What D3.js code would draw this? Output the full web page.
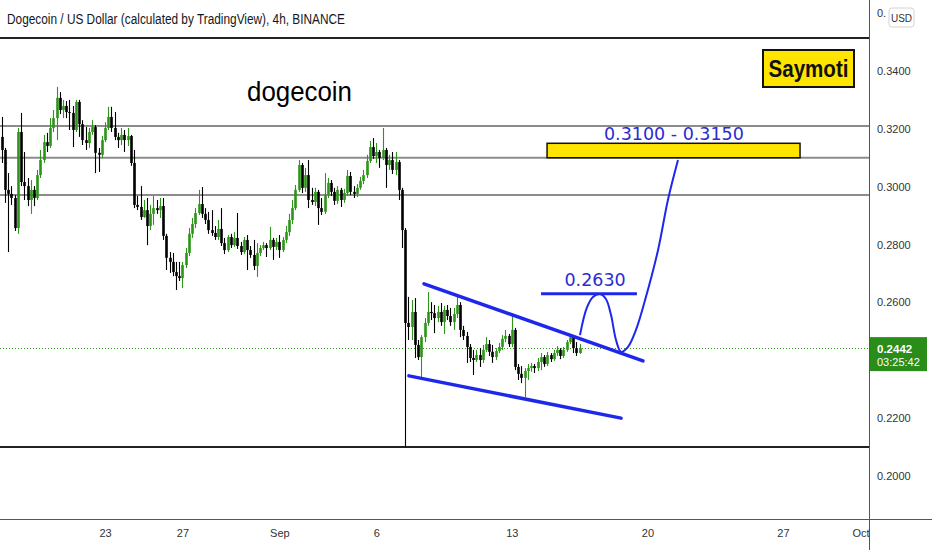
<!DOCTYPE html>
<html><head><meta charset="utf-8">
<script src="https://cdn.jsdelivr.net/npm/d3@7"></script>
<style>html,body{margin:0;padding:0;background:#fff;}svg{display:block;}</style>
</head><body>
<svg id="c" width="932" height="550"></svg>
<script>
// ---------------- data ----------------
const title = "Dogecoin / US Dollar (calculated by TradingView), 4h, BINANCE";
const startTime = "2021-08-17T16:00:00Z";   // first 4h bar
const barHours = 4;
const firstOpen = 0.3172;
const closes = [0.3127,0.2989,0.2975,0.2961,0.2857,0.3189,0.3016,0.3002,0.2954,0.2989,
0.2961,0.3040,0.3092,0.3154,0.3141,0.3203,0.3237,0.3307,0.3265,0.3279,
0.3258,0.3255,0.3196,0.3293,0.3216,0.3161,0.3151,0.3189,0.3206,0.3117,
0.3110,0.3161,0.3203,0.3241,0.3203,0.3172,0.3161,0.3179,0.3161,0.3175,
0.3082,0.2937,0.2930,0.2895,0.2919,0.2864,0.2906,0.2926,0.2919,0.2933,
0.2830,0.2754,0.2740,0.2705,0.2691,0.2684,0.2729,0.2771,0.2837,0.2871,
0.2909,0.2940,0.2906,0.2885,0.2850,0.2840,0.2826,0.2854,0.2805,0.2781,
0.2826,0.2798,0.2823,0.2795,0.2774,0.2816,0.2781,0.2764,0.2726,0.2771,
0.2788,0.2798,0.2788,0.2816,0.2792,0.2809,0.2781,0.2816,0.2843,0.2885,
0.2926,0.2989,0.3075,0.2996,0.3040,0.2954,0.2947,0.2982,0.2926,0.2913,
0.2971,0.3013,0.2982,0.2951,0.2989,0.2954,0.2978,0.3037,0.2982,0.2975,
0.2996,0.3020,0.3040,0.3089,0.3137,0.3106,0.3120,0.3099,0.3127,0.3075,
0.3092,0.3058,0.3085,0.2989,0.2850,0.2529,0.2515,0.2567,0.2453,0.2411,
0.2480,0.2529,0.2567,0.2563,0.2546,0.2567,0.2532,0.2574,0.2553,0.2532,
0.2560,0.2591,0.2505,0.2484,0.2446,0.2408,0.2401,0.2418,0.2401,0.2436,
0.2456,0.2429,0.2411,0.2432,0.2446,0.2474,0.2484,0.2456,0.2505,0.2377,
0.2353,0.2339,0.2363,0.2373,0.2380,0.2373,0.2394,0.2411,0.2387,0.2418,
0.2404,0.2425,0.2436,0.2415,0.2436,0.2463,0.2480,0.2442,0.2425,0.2442];
const highs = [0.3241,0.3134,0.3047,0.3002,0.2971,0.3203,0.3255,0.3120,0.3030,0.3023,
0.3002,0.3058,0.3127,0.3179,0.3186,0.3237,0.3265,0.3345,0.3327,0.3300,
0.3296,0.3300,0.3279,0.3300,0.3300,0.3230,0.3206,0.3203,0.3230,0.3213,
0.3134,0.3175,0.3223,0.3276,0.3276,0.3258,0.3186,0.3203,0.3196,0.3203,
0.3179,0.3127,0.2968,0.3002,0.2954,0.2961,0.2937,0.2968,0.2954,0.2961,
0.2961,0.2837,0.2774,0.2771,0.2740,0.2740,0.2740,0.2788,0.2857,0.2892,
0.2926,0.2989,0.2999,0.2926,0.2913,0.2919,0.2864,0.2885,0.2926,0.2823,
0.2833,0.2837,0.2843,0.2909,0.2809,0.2826,0.2833,0.2795,0.2816,0.2805,
0.2798,0.2809,0.2805,0.2861,0.2823,0.2823,0.2833,0.2826,0.2864,0.2906,
0.2954,0.3006,0.3092,0.3082,0.3065,0.3092,0.2996,0.2996,0.2989,0.2961,
0.3047,0.3030,0.3023,0.2996,0.3002,0.2996,0.2992,0.3058,0.3051,0.3002,
0.3009,0.3034,0.3058,0.3110,0.3158,0.3168,0.3151,0.3127,0.3203,0.3134,
0.3110,0.3120,0.3120,0.3092,0.2996,0.2857,0.2619,0.2608,0.2615,0.2470,
0.2487,0.2546,0.2636,0.2601,0.2591,0.2588,0.2598,0.2588,0.2591,0.2581,
0.2581,0.2626,0.2601,0.2519,0.2498,0.2456,0.2436,0.2436,0.2442,0.2453,
0.2480,0.2470,0.2453,0.2442,0.2460,0.2487,0.2505,0.2491,0.2563,0.2512,
0.2387,0.2380,0.2373,0.2387,0.2391,0.2387,0.2408,0.2425,0.2418,0.2429,
0.2425,0.2436,0.2449,0.2442,0.2446,0.2470,0.2491,0.2484,0.2463,0.2456];
const lows = [0.3082,0.2944,0.2774,0.2937,0.2847,0.2837,0.3002,0.2954,0.2933,0.2906,
0.2933,0.2954,0.3030,0.3082,0.3120,0.3134,0.3189,0.3161,0.3251,0.3237,
0.3237,0.3196,0.3137,0.3189,0.3172,0.3144,0.3127,0.3134,0.3179,0.3047,
0.3051,0.3099,0.3154,0.3196,0.3189,0.3161,0.3134,0.3144,0.3120,0.3141,
0.3072,0.2926,0.2919,0.2885,0.2892,0.2798,0.2850,0.2868,0.2906,0.2892,
0.2816,0.2712,0.2702,0.2691,0.2643,0.2674,0.2650,0.2719,0.2760,0.2823,
0.2857,0.2902,0.2892,0.2871,0.2837,0.2830,0.2816,0.2816,0.2795,0.2767,
0.2774,0.2788,0.2792,0.2785,0.2764,0.2767,0.2712,0.2754,0.2712,0.2688,
0.2760,0.2781,0.2757,0.2781,0.2747,0.2781,0.2754,0.2774,0.2805,0.2830,
0.2871,0.2919,0.2982,0.2978,0.2982,0.2926,0.2937,0.2933,0.2868,0.2902,
0.2906,0.2961,0.2968,0.2937,0.2940,0.2930,0.2944,0.2968,0.2971,0.2961,
0.2964,0.2989,0.3009,0.3030,0.3082,0.3096,0.3082,0.3065,0.3092,0.2996,
0.3058,0.3044,0.3040,0.2954,0.2788,0.2100,0.2470,0.2470,0.2408,0.2401,
0.2339,0.2463,0.2519,0.2539,0.2494,0.2532,0.2519,0.2491,0.2539,0.2519,
0.2505,0.2546,0.2480,0.2470,0.2391,0.2394,0.2349,0.2394,0.2377,0.2391,
0.2429,0.2415,0.2391,0.2401,0.2425,0.2436,0.2463,0.2446,0.2446,0.2366,
0.2332,0.2321,0.2273,0.2332,0.2360,0.2356,0.2363,0.2366,0.2377,0.2380,
0.2394,0.2398,0.2415,0.2404,0.2408,0.2429,0.2456,0.2425,0.2415,0.2422];

const yTicks = [0.20, 0.22, 0.26, 0.28, 0.30, 0.32, 0.34, 0.36];
const topTickShown = "0.";   // the top tick is mostly covered by the currency badge
const xTickDates = ["2021-08-23","2021-08-27","2021-09-01","2021-09-06","2021-09-13","2021-09-20","2021-09-27","2021-10-01"];
const xTickLabels = ["23","27","Sep","6","13","20","27","Oct"];
const grayLevels = [0.3210, 0.3100, 0.2971];
const darkLevels = [0.3514, 0.2100];
const lastPrice = 0.2442;
const countdown = "03:25:42";
const currency = "USD";

// annotations: [days after refDate, price]
const refDate = "2021-08-23T00:00:00Z";
const wedgeUpper = [[16.47, 0.2664], [27.77, 0.2398]];
const wedgeLower = [[15.69, 0.2346], [26.64, 0.2200]];
const level2630 = {from: 22.51, to: 27.46, price: 0.2630, label: "0.2630", labelAt: 25.30};
const targetZone = {from: 22.82, to: 35.88, low: 0.3100, high: 0.3150, label: "0.3100 - 0.3150", labelAt: 29.37};
const projection = [[24.52,0.2487],[24.87,0.2581],[25.19,0.2619],[25.55,0.2629],[25.86,0.2612],
  [26.12,0.2557],[26.38,0.2470],[26.64,0.2429],[27.00,0.2446],[27.41,0.2505],[27.88,0.2608],
  [28.55,0.2781],[29.06,0.2954],[29.58,0.3092]];
const nameLabel = "dogecoin";
const authorLabel = "Saymoti";

// ---------------- layout ----------------
const W = 932, H = 550, plotR = 869, axisY = 519;
const FONT = "'Liberation Sans', Arial, sans-serif";
const UP = "#2c951a", DOWN = "#000000", BLUE = "#1f28ea", TXTBLUE = "#2b2bd2";

const svg = d3.select("#c");
const x = d3.scaleUtc()
  .domain([new Date("2021-08-17T13:54:00Z"), new Date("2021-10-01T10:34:00Z")])
  .range([0, plotR]);
const y = d3.scaleLinear().domain([0.2, 0.36]).range([476, 13.1]);
const ref = new Date(refDate);
const dayT = d => new Date(ref.getTime() + d * 86400000);
const start = new Date(startTime);

const bars = closes.map((c, i) => {
  const o = i === 0 ? firstOpen : closes[i - 1];
  return {t: d3.utcHour.offset(start, i * barHours), o, c,
          h: Math.max(highs[i], o, c), l: Math.min(lows[i], o, c)};
});

// horizontal drawn levels
svg.append("g").selectAll("line").data(grayLevels).join("line")
  .attr("x1", 0).attr("x2", plotR).attr("y1", d => y(d)).attr("y2", d => y(d))
  .attr("stroke", "#8c8c8c").attr("stroke-width", 2);
svg.append("g").selectAll("line").data(darkLevels).join("line")
  .attr("x1", 0).attr("x2", plotR).attr("y1", d => y(d)).attr("y2", d => y(d))
  .attr("stroke", "#222").attr("stroke-width", 2);

// last price dotted line
svg.append("line").attr("x1", 0).attr("x2", plotR)
  .attr("y1", Math.round(y(lastPrice)) + 0.5).attr("y2", Math.round(y(lastPrice)) + 0.5)
  .attr("stroke", UP).attr("stroke-width", 1).attr("stroke-dasharray", "1,2");

// candles
const cg = svg.append("g");
cg.selectAll("line").data(bars).join("line")
  .attr("x1", d => Math.round(x(d.t)) + 0.5).attr("x2", d => Math.round(x(d.t)) + 0.5)
  .attr("y1", d => y(d.h)).attr("y2", d => y(d.l))
  .attr("stroke", d => d.c >= d.o ? UP : DOWN).attr("stroke-width", 1.1);
cg.selectAll("rect").data(bars).join("rect")
  .attr("x", d => Math.round(x(d.t)) - 0.8).attr("width", 2.6)
  .attr("y", d => y(Math.max(d.o, d.c)))
  .attr("height", d => Math.max(1, Math.abs(y(d.o) - y(d.c))))
  .attr("fill", d => d.c >= d.o ? UP : DOWN);

// wedge lines
const line = d3.line().x(d => x(dayT(d[0]))).y(d => y(d[1]));
[wedgeUpper, wedgeLower].forEach(seg => {
  svg.append("path").attr("d", line(seg)).attr("fill", "none")
    .attr("stroke", BLUE).attr("stroke-width", 3.5).attr("stroke-linecap", "round");
});

// 0.2630 level
svg.append("line")
  .attr("x1", x(dayT(level2630.from))).attr("x2", x(dayT(level2630.to)))
  .attr("y1", y(level2630.price)).attr("y2", y(level2630.price))
  .attr("stroke", BLUE).attr("stroke-width", 3);
svg.append("text").attr("x", x(dayT(level2630.labelAt))).attr("y", y(level2630.price) - 8)
  .attr("text-anchor", "middle").attr("font-family", "'DejaVu Sans', sans-serif")
  .attr("font-size", 17.5).attr("fill", TXTBLUE).text(level2630.label);

// projection path
svg.append("path").attr("d", d3.line().curve(d3.curveCatmullRom)
    .x(d => x(dayT(d[0]))).y(d => y(d[1]))(projection))
  .attr("fill", "none").attr("stroke", BLUE).attr("stroke-width", 2);

// target zone
svg.append("rect")
  .attr("x", x(dayT(targetZone.from))).attr("width", x(dayT(targetZone.to)) - x(dayT(targetZone.from)))
  .attr("y", y(targetZone.high)).attr("height", y(targetZone.low) - y(targetZone.high))
  .attr("fill", "#ffe400").attr("stroke", "#111").attr("stroke-width", 1.5);
svg.append("text").attr("x", x(dayT(targetZone.labelAt))).attr("y", y(targetZone.high) - 3)
  .attr("text-anchor", "middle").attr("font-family", "'DejaVu Sans', sans-serif")
  .attr("font-size", 17.5).attr("fill", TXTBLUE).text(targetZone.label);

// texts
svg.append("text").attr("x", 7).attr("y", 24).attr("font-family", FONT)
  .attr("font-size", 14).attr("fill", "#131722")
  .attr("textLength", 338).attr("lengthAdjust", "spacingAndGlyphs").text(title);
svg.append("text").attr("x", 247).attr("y", 101).attr("font-family", FONT)
  .attr("font-size", 27).attr("fill", "#000")
  .attr("textLength", 105).attr("lengthAdjust", "spacingAndGlyphs").text(nameLabel);
svg.append("rect").attr("x", 763).attr("y", 50).attr("width", 91).attr("height", 37)
  .attr("fill", "#ffe400").attr("stroke", "#111").attr("stroke-width", 2);
svg.append("text").attr("x", 808.5).attr("y", 77).attr("text-anchor", "middle")
  .attr("font-family", FONT).attr("font-size", 23).attr("font-weight", "bold").attr("fill", "#111")
  .attr("textLength", 80).attr("lengthAdjust", "spacingAndGlyphs").text(authorLabel);

// axes
const topTick = yTicks[yTicks.length - 1];
const yAxis = d3.axisRight(y).tickValues(yTicks)
  .tickFormat(d => d === topTick ? topTickShown : d3.format(".4f")(d)).tickSize(0).tickPadding(8);
const ya = svg.append("g").attr("transform", `translate(${plotR},0)`).call(yAxis);
ya.select(".domain").remove();
ya.selectAll("text").attr("font-family", FONT).attr("font-size", 11).attr("fill", "#333");

const xDates = xTickDates.map(s => new Date(s + "T00:00:00Z"));
const xAxis = d3.axisBottom(x).tickValues(xDates).tickFormat((d, i) => xTickLabels[i]).tickSize(0).tickPadding(10);
const xa = svg.append("g").attr("transform", `translate(0,${axisY})`).call(xAxis);
xa.select(".domain").remove();
xa.selectAll("text").attr("font-family", FONT).attr("font-size", 11).attr("fill", "#333");

svg.append("line").attr("x1", plotR + 0.5).attr("x2", plotR + 0.5).attr("y1", 0).attr("y2", H)
  .attr("stroke", "#555").attr("stroke-width", 1);
svg.append("line").attr("x1", 0).attr("x2", W).attr("y1", axisY + 0.5).attr("y2", axisY + 0.5)
  .attr("stroke", "#555").attr("stroke-width", 1);

// USD badge
svg.append("rect").attr("x", 889).attr("y", 8).attr("width", 25).attr("height", 19).attr("rx", 3)
  .attr("fill", "#fff").attr("stroke", "#d4d4d4");
svg.append("text").attr("x", 901.5).attr("y", 21.5).attr("text-anchor", "middle")
  .attr("font-family", FONT).attr("font-size", 10).attr("fill", "#333").text(currency);

// last price label
const ly = y(lastPrice);
svg.append("rect").attr("x", plotR + 1).attr("y", ly - 11).attr("width", 57).attr("height", 34)
  .attr("fill", "#2a8c19");
svg.append("text").attr("x", plotR + 8).attr("y", ly + 5).attr("font-family", FONT)
  .attr("font-size", 11.5).attr("font-weight", "bold").attr("fill", "#fff").text(d3.format(".4f")(lastPrice));
svg.append("text").attr("x", plotR + 8).attr("y", ly + 18).attr("font-family", FONT)
  .attr("font-size", 11).attr("fill", "#fff").text(countdown);
</script>
</body></html>
